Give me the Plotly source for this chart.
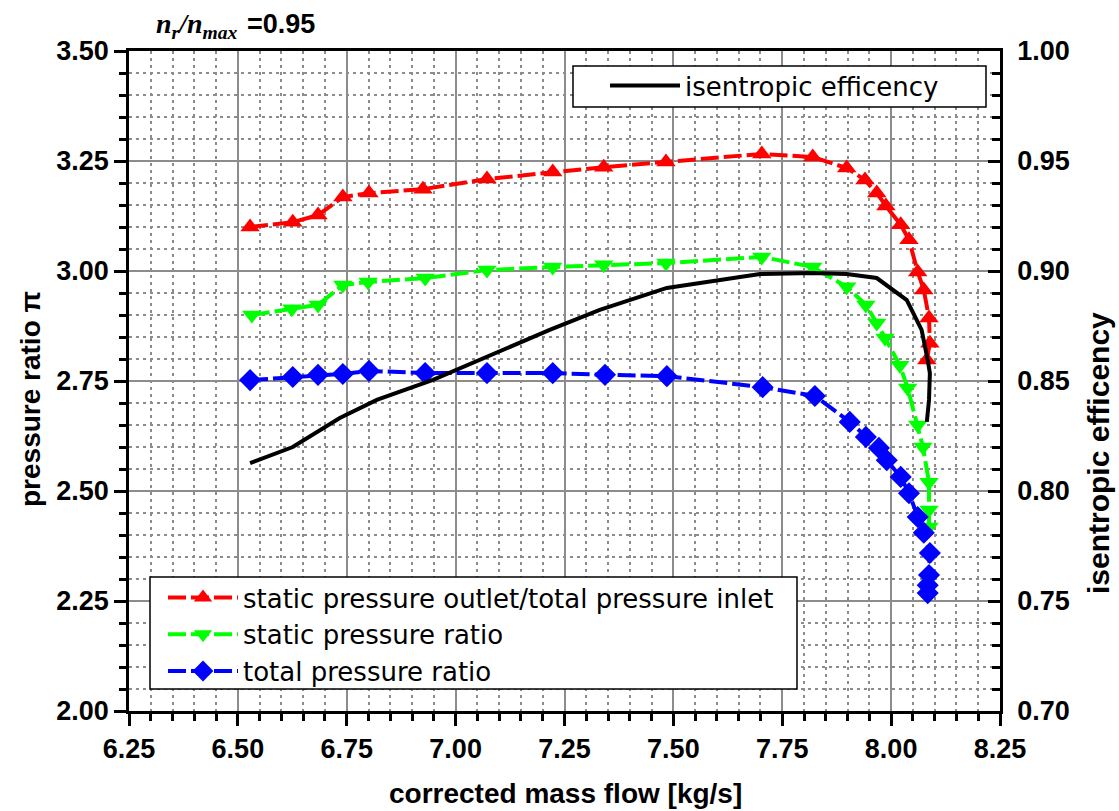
import plotly.graph_objects as go

# ---- data ----
red_x = [6.528, 6.626, 6.684, 6.741, 6.801, 6.925, 7.072, 7.223, 7.340, 7.483, 7.703, 7.820,
         7.898, 7.940, 7.967, 7.988, 8.022, 8.041, 8.061, 8.075, 8.087, 8.089, 8.082]
red_y = [3.100, 3.111, 3.127, 3.168, 3.177, 3.186, 3.209, 3.225, 3.236, 3.248, 3.266, 3.259,
         3.234, 3.207, 3.177, 3.148, 3.105, 3.071, 2.998, 2.957, 2.893, 2.836, 2.798]

green_x = [6.532, 6.624, 6.684, 6.741, 6.799, 6.930, 7.072, 7.223, 7.340, 7.483, 7.703, 7.820,
           7.898, 7.942, 7.967, 7.986, 8.020, 8.038, 8.061, 8.073, 8.087, 8.087, 8.087]
green_y = [2.900, 2.914, 2.923, 2.968, 2.975, 2.984, 3.002, 3.009, 3.014, 3.018, 3.032, 3.009,
           2.964, 2.923, 2.882, 2.848, 2.786, 2.734, 2.650, 2.600, 2.520, 2.457, 2.418]

blue_x = [6.528, 6.626, 6.684, 6.741, 6.801, 6.930, 7.072, 7.223, 7.343, 7.485, 7.705, 7.825,
          7.905, 7.942, 7.972, 7.990, 8.022, 8.041, 8.061, 8.075, 8.089, 8.087, 8.084, 8.084]
blue_y = [2.752, 2.759, 2.764, 2.766, 2.773, 2.768, 2.768, 2.768, 2.764, 2.761, 2.736, 2.716,
          2.657, 2.623, 2.598, 2.570, 2.532, 2.495, 2.441, 2.405, 2.359, 2.309, 2.286, 2.268]

eff_x = [6.528, 6.626, 6.734, 6.819, 6.948, 7.216, 7.331, 7.485, 7.699, 7.820, 7.898, 7.967,
         8.036, 8.070, 8.084, 8.089, 8.087, 8.082]
eff_y = [0.8127, 0.8200, 0.8332, 0.8414, 0.8505, 0.8732, 0.8823, 0.8923, 0.8986, 0.8991, 0.8986,
         0.8968, 0.8868, 0.8732, 0.8595, 0.8536, 0.8414, 0.8314]

names = ["static pressure outlet/total pressure inlet", "static pressure ratio",
         "total pressure ratio", "isentropic efficency"]
x_title = "corrected mass flow [kg/s]"
y_title = "pressure ratio π"
y2_title = "isentropic efficency"

FONT = "Liberation Sans"
LFONT = "DejaVu Sans"
DASH = "18px,5px"

# plot area in pixels
L, R, T, B = 129, 1000, 51, 711
W, H = R - L, B - T


def px(xp):
    return (xp - L) / W


def py(yp):
    return (B - yp) / H


fig = go.Figure()
fig.add_trace(go.Scatter(x=red_x, y=red_y, name=names[0], mode="lines+markers",
                         line=dict(color="#ff0000", width=4, dash=DASH),
                         marker=dict(symbol="triangle-up", size=17, color="#ff0000", line=dict(width=0)),
                         legend="legend"))
fig.add_trace(go.Scatter(x=green_x, y=green_y, name=names[1], mode="lines+markers",
                         line=dict(color="#00ff00", width=4, dash=DASH),
                         marker=dict(symbol="triangle-down", size=17, color="#00ff00", line=dict(width=0)),
                         legend="legend"))
fig.add_trace(go.Scatter(x=blue_x, y=blue_y, name=names[2], mode="lines+markers",
                         line=dict(color="#0000ff", width=4, dash=DASH),
                         marker=dict(symbol="diamond", size=17, color="#0000ff", line=dict(width=0)),
                         legend="legend"))
fig.add_trace(go.Scatter(x=eff_x, y=eff_y, name=names[3], mode="lines", yaxis="y2",
                         line=dict(color="#000000", width=4),
                         legend="legend2"))

gridc = "#8c8c8c"
minor_grid = dict(showgrid=True, gridcolor="#8c8c8c", gridwidth=1.5, griddash="3px,4px")
TICKFONT = dict(size=27, weight="bold", family=FONT)

fig.update_layout(
    width=1119, height=811,
    margin=dict(l=L, r=1119 - R, t=T, b=811 - B),
    paper_bgcolor="white", plot_bgcolor="white",
    font=dict(family=FONT, color="black"),
    xaxis=dict(range=[6.25, 8.25], dtick=0.25, tick0=6.25, tickformat=".2f",
               showline=True, linecolor="black", linewidth=2.5, mirror=True,
               ticks="outside", ticklen=12, tickwidth=2.5, tickcolor="black",
               showgrid=True, gridcolor=gridc, gridwidth=2, zeroline=False,
               minor=dict(dtick=0.05, ticks="outside", ticklen=7, tickwidth=2.5, tickcolor="black", **minor_grid),
               tickfont=TICKFONT),
    yaxis=dict(range=[2.0, 3.5], dtick=0.25, tick0=2.0, tickformat=".2f",
               showline=True, linecolor="black", linewidth=2.5,
               ticks="outside", ticklen=12, tickwidth=2.5, tickcolor="black",
               showgrid=True, gridcolor=gridc, gridwidth=2, zeroline=False,
               minor=dict(dtick=0.05, ticks="outside", ticklen=7, tickwidth=2.5, tickcolor="black", **minor_grid),
               tickfont=TICKFONT),
    yaxis2=dict(range=[0.70, 1.00], dtick=0.05, tick0=0.70, tickformat=".2f",
                overlaying="y", side="right",
                showline=True, linecolor="black", linewidth=2.5,
                ticks="inside", ticklen=12, tickwidth=2.5, tickcolor="black",
                ticklabelstandoff=9,
                showgrid=False, zeroline=False,
                minor=dict(dtick=0.01, ticks="inside", ticklen=8, tickwidth=2.5, tickcolor="black", showgrid=False),
                tickfont=TICKFONT),
    legend=dict(x=px(163), y=py(574), xanchor="left", yanchor="top",
                bgcolor="rgba(0,0,0,0)", borderwidth=0,
                font=dict(size=26, family=LFONT), itemwidth=70, tracegroupgap=0,
                traceorder="normal"),
    legend2=dict(x=px(605), y=py(62), xanchor="left", yanchor="top",
                 bgcolor="rgba(0,0,0,0)", borderwidth=0,
                 font=dict(size=26, family=LFONT), itemwidth=70),
    showlegend=True,
    shapes=[
        dict(type="rect", xref="paper", yref="paper", x0=px(150), x1=px(797), y0=py(689), y1=py(577),
             line=dict(color="black", width=1.5), fillcolor="white", layer="above"),
        dict(type="rect", xref="paper", yref="paper", x0=px(573), x1=px(986), y0=py(107), y1=py(66),
             line=dict(color="black", width=1.5), fillcolor="white", layer="above"),
    ],
)

# title and axis titles
fig.add_annotation(xref="paper", yref="paper", x=px(154), y=py(25),
                   xanchor="left", yanchor="middle", showarrow=False,
                   text="<b><i>n</i></b><sub><b><i>r</i></b></sub><b><i>/n</i></b><sub><b><i>max</i></b></sub>",
                   font=dict(family="Liberation Serif", size=28, color="black"))
fig.add_annotation(xref="paper", yref="paper", x=px(245), y=py(24),
                   xanchor="left", yanchor="middle", showarrow=False,
                   text="<b>=0.95</b>", font=dict(family=FONT, size=27, color="black"))
fig.add_annotation(xref="paper", yref="paper", x=px(565), y=py(793),
                   xanchor="center", yanchor="middle", showarrow=False,
                   text="<b>" + x_title + "</b>", font=dict(family=FONT, size=28, color="black"))
fig.add_annotation(xref="paper", yref="paper", x=px(30), y=py(399), textangle=-90,
                   xanchor="center", yanchor="middle", showarrow=False,
                   text="<b>" + y_title + "</b>", font=dict(family=FONT, size=28, color="black"))
fig.add_annotation(xref="paper", yref="paper", x=px(1098), y=py(453), textangle=-90,
                   xanchor="center", yanchor="middle", showarrow=False,
                   text="<b>" + y2_title + "</b>", font=dict(family=FONT, size=30, color="black"))

fig.write_html("out.html")
